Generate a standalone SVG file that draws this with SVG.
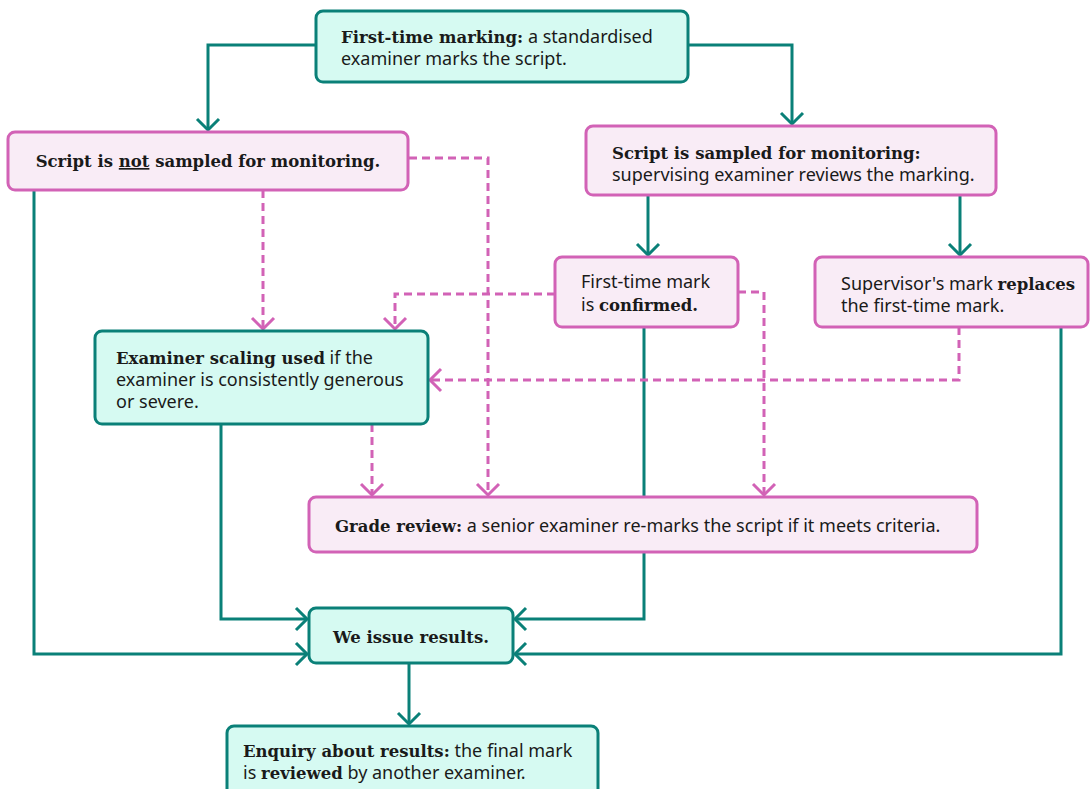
<svg xmlns="http://www.w3.org/2000/svg" width="1092" height="789" viewBox="0 0 1092 789">
<style>
.tl{fill:#D6FAF2;stroke:#0A8078;stroke-width:3}
.pk{fill:#F9ECF6;stroke:#D262B6;stroke-width:3}
.cs{fill:none;stroke:#0A8078;stroke-width:3}
.cd{fill:none;stroke:#D262B6;stroke-width:3;stroke-dasharray:8 5}
text{font-family:"Noto Sans","Open Sans",sans-serif;font-size:18px;fill:#1A1A1A}
.b{font-family:"DejaVu Serif","Liberation Serif",serif;font-weight:bold;font-size:16.5px}
</style>
<defs>
<marker id="at" markerUnits="userSpaceOnUse" markerWidth="30" markerHeight="30" refX="15" refY="15" orient="auto" viewBox="0 0 30 30">
<path d="M4,4 L15,15 L4,26" fill="none" stroke="#0A8078" stroke-width="3"/>
</marker>
<marker id="ap" markerUnits="userSpaceOnUse" markerWidth="30" markerHeight="30" refX="15" refY="15" orient="auto" viewBox="0 0 30 30">
<path d="M4,4 L15,15 L4,26" fill="none" stroke="#D262B6" stroke-width="3"/>
</marker>
</defs>
<g id="connectors">
<path class="cs" d="M316,45 H208 V130" marker-end="url(#at)"/>
<path class="cs" d="M688,45 H792 V124" marker-end="url(#at)"/>
<path class="cs" d="M648,195 V255" marker-end="url(#at)"/>
<path class="cs" d="M960,195 V255" marker-end="url(#at)"/>
<path class="cs" d="M34,190 V654 H307" marker-end="url(#at)"/>
<path class="cs" d="M221,424 V619 H307" marker-end="url(#at)"/>
<path class="cs" d="M644,327 V619 H515" marker-end="url(#at)"/>
<path class="cs" d="M1061,327 V654 H515" marker-end="url(#at)"/>
<path class="cs" d="M409,663 V724" marker-end="url(#at)"/>
<path class="cd" d="M263,190 V329" marker-end="url(#ap)"/>
<path class="cd" d="M409,158 H488 V495" marker-end="url(#ap)"/>
<path class="cd" d="M555,294 H395 V329" marker-end="url(#ap)"/>
<path class="cd" d="M738,292 H764 V495" marker-end="url(#ap)"/>
<path class="cd" d="M959,327 V380 H430" marker-end="url(#ap)"/>
<path class="cd" d="M372,424 V495" marker-end="url(#ap)"/>
</g>
<g id="n1"><rect class="tl" x="316" y="11" width="372" height="71" rx="7"/>
<text x="341" y="43"><tspan class="b">First-time marking:</tspan> a standardised</text>
<text x="341" y="65">examiner marks the script.</text></g>
<g id="n2"><rect class="pk" x="8" y="132" width="400" height="58" rx="7"/>
<text class="b" x="208" y="167" text-anchor="middle">Script is <tspan text-decoration="underline">not</tspan> sampled for monitoring.</text></g>
<g id="n3"><rect class="pk" x="586" y="126" width="410" height="69" rx="7"/>
<text class="b" x="612" y="159">Script is sampled for monitoring:</text>
<text x="612" y="181">supervising examiner reviews the marking.</text></g>
<g id="n4"><rect class="pk" x="555" y="257" width="183" height="70" rx="7"/>
<text x="581" y="288">First-time mark</text>
<text x="581" y="311">is <tspan class="b">confirmed.</tspan></text></g>
<g id="n5"><rect class="pk" x="815" y="257" width="273" height="70" rx="7"/>
<text x="841" y="290">Supervisor's mark <tspan class="b">replaces</tspan></text>
<text x="841" y="312">the first-time mark.</text></g>
<g id="n6"><rect class="tl" x="95" y="331" width="333" height="93" rx="7"/>
<text x="116" y="364"><tspan class="b">Examiner scaling used</tspan> if the</text>
<text x="116" y="386">examiner is consistently generous</text>
<text x="116" y="408">or severe.</text></g>
<g id="n7"><rect class="pk" x="309" y="497" width="668" height="55" rx="7"/>
<text x="335" y="532"><tspan class="b">Grade review:</tspan> a senior examiner re-marks the script if it meets criteria.</text></g>
<g id="n8"><rect class="tl" x="309" y="608" width="204" height="55" rx="7"/>
<text class="b" x="411" y="643" text-anchor="middle">We issue results.</text></g>
<g id="n9"><rect class="tl" x="227" y="726" width="371" height="80" rx="7"/>
<text x="243" y="757"><tspan class="b">Enquiry about results:</tspan> the final mark</text>
<text x="243" y="779">is <tspan class="b">reviewed</tspan> by another examiner.</text></g>
</svg>
